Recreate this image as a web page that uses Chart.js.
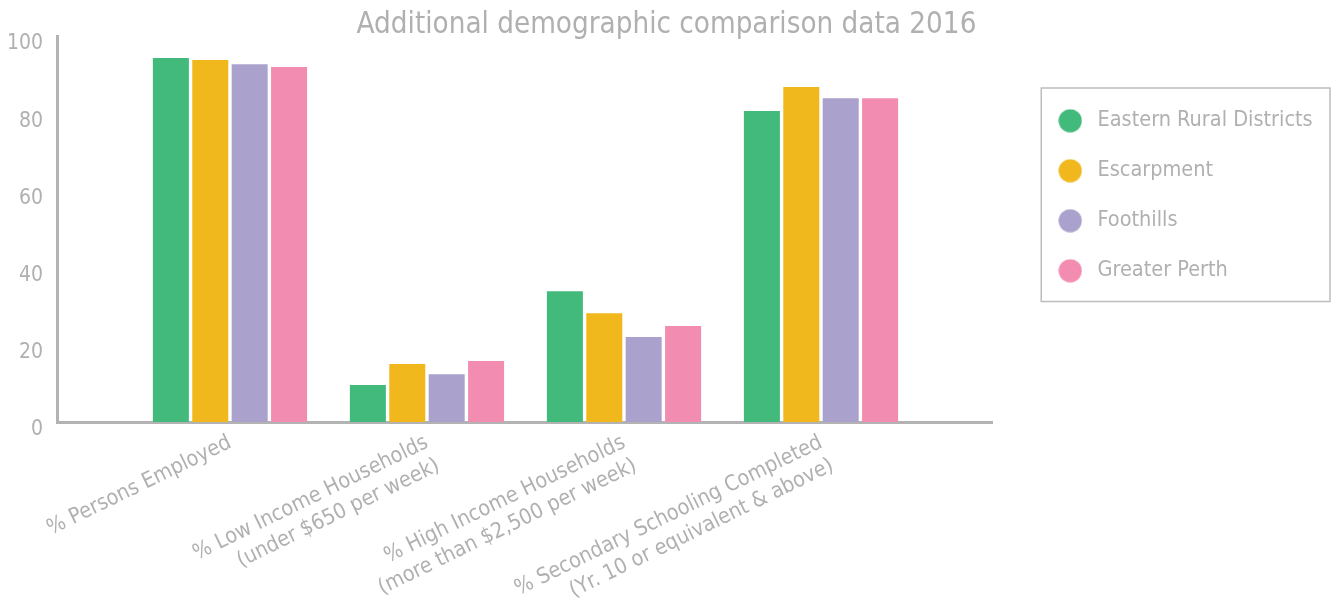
<!DOCTYPE html>
<html>
<head>
<meta charset="utf-8">
<script src="https://cdn.jsdelivr.net/npm/chart.js@4.4.0/dist/chart.umd.min.js"></script>
<style>
  html, body { margin: 0; padding: 0; background: #fff; }
  #wrap { width: 1333px; height: 601px; }
</style>
</head>
<body>
<div id="wrap"><canvas id="myChart"></canvas></div>
<script>
"use strict";

const categories = [
  "% Persons Employed",
  ["% Low Income Households", "(under $650 per week)"],
  ["% High Income Households", "(more than $2,500 per week)"],
  ["% Secondary Schooling Completed", "(Yr. 10 or equivalent & above)"],
];
const seriesNames = ["Eastern Rural Districts", "Escarpment", "Foothills", "Greater Perth"];
const easternRural = [94.3, 9.6, 33.9, 80.6];
const escarpment = [93.8, 15.0, 28.2, 86.8];
const foothills = [92.7, 12.4, 22.0, 83.9];
const greaterPerth = [92.0, 15.8, 24.9, 83.9];
const barColors = ["#41BA7C", "#F1B81D", "#AAA2CD", "#F28CB0"];

const textGrey = "#b0b0b0";
const axisGrey = "#b3b3b3";
const fontFamily = '"DejaVu Sans Condensed", "DejaVu Sans", sans-serif';

const legendWidth = 341; // room kept right of the plot
const legendShift = 33.25; // legend items sit this far in from that room

// round legend dot, as a small canvas so the text can sit further off
function legendDot(color) {
  const c = document.createElement("canvas");
  c.width = 24;
  c.height = 24;
  const g = c.getContext("2d");
  g.fillStyle = color;
  g.beginPath();
  g.arc(12, 12, 11.6, 0, Math.PI * 2);
  g.fill();
  return c;
}

// legend: wider slot, then box round the items
const legendLayout = {
  id: "legendLayout",
  beforeLayout(chart) {
    const legend = chart.legend;
    if (legend && !legend._wideFit) {
      const fit = legend.fit;
      legend.fit = function () {
        fit.call(this);
        this.width = legendWidth;
      };
      legend._wideFit = true;
    }
  },
  afterLayout(chart) {
    chart.legend.left += legendShift;
  },
  afterDraw(chart) {
    const boxes = chart.legend.legendHitBoxes;
    if (!boxes || !boxes.length) return;
    let left = Infinity, top = Infinity, bottom = -Infinity;
    boxes.forEach((b) => {
      left = Math.min(left, b.left);
      top = Math.min(top, b.top);
      bottom = Math.max(bottom, b.top + b.height);
    });
    const ctx = chart.ctx;
    ctx.save();
    ctx.strokeStyle = "#bdbdbd";
    ctx.lineWidth = 1.5;
    const x0 = left - 12.5;
    ctx.strokeRect(x0, top - 22, chart.width - 3 - x0, bottom - top + 42);
    ctx.restore();
  },
};

const allSeries = [easternRural, escarpment, foothills, greaterPerth];

new Chart("myChart", {
  type: "bar",
  data: {
    labels: categories,
    datasets: allSeries.map((values, i) => ({
      label: seriesNames[i],
      data: values,
      backgroundColor: barColors[i],
      pointStyle: legendDot(barColors[i]),
      categoryPercentage: 0.8,
      barPercentage: 0.914,
    })),
  },
  options: {
    responsive: true,
    maintainAspectRatio: false,
    animation: false,
    layout: { padding: 0 },
    plugins: {
      title: {
        display: true,
        text: "Additional demographic comparison data 2016",
        color: textGrey,
        font: { family: fontFamily, size: 29.3, weight: "normal", lineHeight: 1 },
        padding: { top: 11, bottom: -4.3 },
      },
      legend: {
        position: "right",
        align: "start",
        title: { display: true, text: " ", font: { size: 10 }, padding: { top: 69.5, bottom: 0 } },
        labels: {
          usePointStyle: true,
          pointStyleWidth: 33,
          boxHeight: 16.5,
          color: textGrey,
          font: { family: fontFamily, size: 21.5 },
          padding: 28.5,
        },
      },
      tooltip: { enabled: false },
    },
    scales: {
      x: {
        grid: { display: false, drawTicks: false },
        border: { color: axisGrey, width: 3 },
        afterBuildTicks(scale) {
          // extra room each side of the groups, as in the picture
          scale._startValue -= 0.378;
          scale._valueRange += 0.746;
        },
        afterFit(scale) {
          scale.height = 179;
        },
        ticks: {
          color: textGrey,
          font: { family: fontFamily, size: 21.5 },
          minRotation: 26,
          maxRotation: 26,
          padding: 8,
        },
      },
      y: {
        min: 0,
        max: 100,
        grid: { display: false, drawTicks: false },
        border: { color: axisGrey, width: 3 },
        afterFit(scale) {
          scale.width = 57;
        },
        ticks: {
          stepSize: 20,
          color: textGrey,
          font: { family: fontFamily, size: 21 },
          padding: 14,
          labelOffset: 8,
        },
      },
    },
  },
  plugins: [legendLayout],
});
</script>
</body>
</html>
